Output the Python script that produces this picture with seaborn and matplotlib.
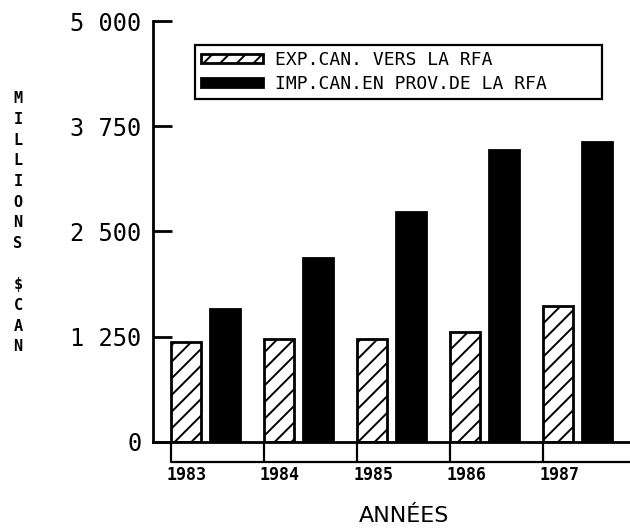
import pandas as pd
import matplotlib
matplotlib.use('Agg')
import matplotlib.pyplot as plt
import matplotlib.transforms as mtransforms
import seaborn as sns

# data (millions $CAN)
years = ['1983', '1984', '1985', '1986', '1987']
exports = [1180, 1220, 1225, 1305, 1615]
imports = [1575, 2185, 2725, 3470, 3560]
series_labels = ['EXP.CAN. VERS LA RFA', 'IMP.CAN.EN PROV.DE LA RFA']
y_ticks = [0, 1250, 2500, 3750, 5000]
y_tick_labels = ['0', '1 250', '2 500', '3 750', '5 000']

df = pd.DataFrame({
    'year': years * 2,
    'value': exports + imports,
    'series': [series_labels[0]] * len(years) + [series_labels[1]] * len(years),
})

sns.set_style('white')
plt.rcParams['hatch.linewidth'] = 1.4
plt.rcParams['text.color'] = 'black'
plt.rcParams['axes.labelcolor'] = 'black'
mono = 'DejaVu Sans Mono'

fig = plt.figure(figsize=(6.3, 5.28), dpi=100)
ax = fig.add_axes([0.2424, 0.1634, 0.7576, 0.7966])

sns.barplot(data=df, x='year', y='value', hue='series', hue_order=series_labels,
            palette={series_labels[0]: 'white', series_labels[1]: 'black'},
            saturation=1, width=0.84, gap=0.22, edgecolor='black', linewidth=2,
            legend=False, ax=ax)

for bar in ax.containers[0]:
    bar.set_hatch('//')

# axes styling
ax.set_ylim(0, 5000)
ax.set_xlim(-0.565, len(years) - 1 + 0.562)
for side in ['top', 'right']:
    ax.spines[side].set_visible(False)
for side in ['left', 'bottom']:
    ax.spines[side].set_linewidth(2)
    ax.spines[side].set_color('black')

ax.set_yticks(y_ticks, labels=y_tick_labels)
ax.tick_params(axis='y', left=True, direction='in', length=13.7, width=2, pad=8,
               labelsize=17, colors='black')
for lbl in ax.get_yticklabels():
    lbl.set_family(mono)

tick_pos = [i - 0.37 for i in range(len(years))]
ax.set_xticks(tick_pos, labels=years)
ax.tick_params(axis='x', direction='out', length=14.4, width=1.6, pad=3,
               labelsize=12, colors='black', bottom=True)
shift = mtransforms.ScaledTranslation(-4 / 100, 0, fig.dpi_scale_trans)
for lbl in ax.get_xticklabels():
    lbl.set_family(mono)
    lbl.set_fontweight('bold')
    lbl.set_ha('left')
    lbl.set_transform(lbl.get_transform() + shift)

# lower rail joining the x ticks
ax.plot([tick_pos[0], ax.get_xlim()[1]], [-0.0476, -0.0476], color='black',
        lw=1.6, transform=ax.get_xaxis_transform(), clip_on=False)

ax.set_ylabel('')
ax.set_xlabel('ANNÉES', fontsize=16, family='DejaVu Sans', va='center',
              color='black')
ax.xaxis.set_label_coords(0.5265, -0.176)

fig.text(0.0286, 0.578, '\n'.join('MILLIONS $CAN'), fontsize=11, family=mono,
         fontweight='bold', ha='center', va='center', linespacing=1.47)

leg = ax.legend(ax.containers, series_labels, loc='upper left',
                bbox_to_anchor=(195 / 630, 1 - 98 / 528, 407 / 630, 53 / 528),
                bbox_transform=fig.transFigure, mode='expand', borderaxespad=0,
                prop={'family': mono, 'size': 13}, frameon=True, fancybox=False,
                edgecolor='black', framealpha=1, handlelength=3.4,
                handleheight=0.4, handletextpad=0.7, labelspacing=0.3,
                borderpad=0.35)
leg.get_frame().set_linewidth(1.6)

plt.savefig('out.png', dpi=100)
plt.close()
